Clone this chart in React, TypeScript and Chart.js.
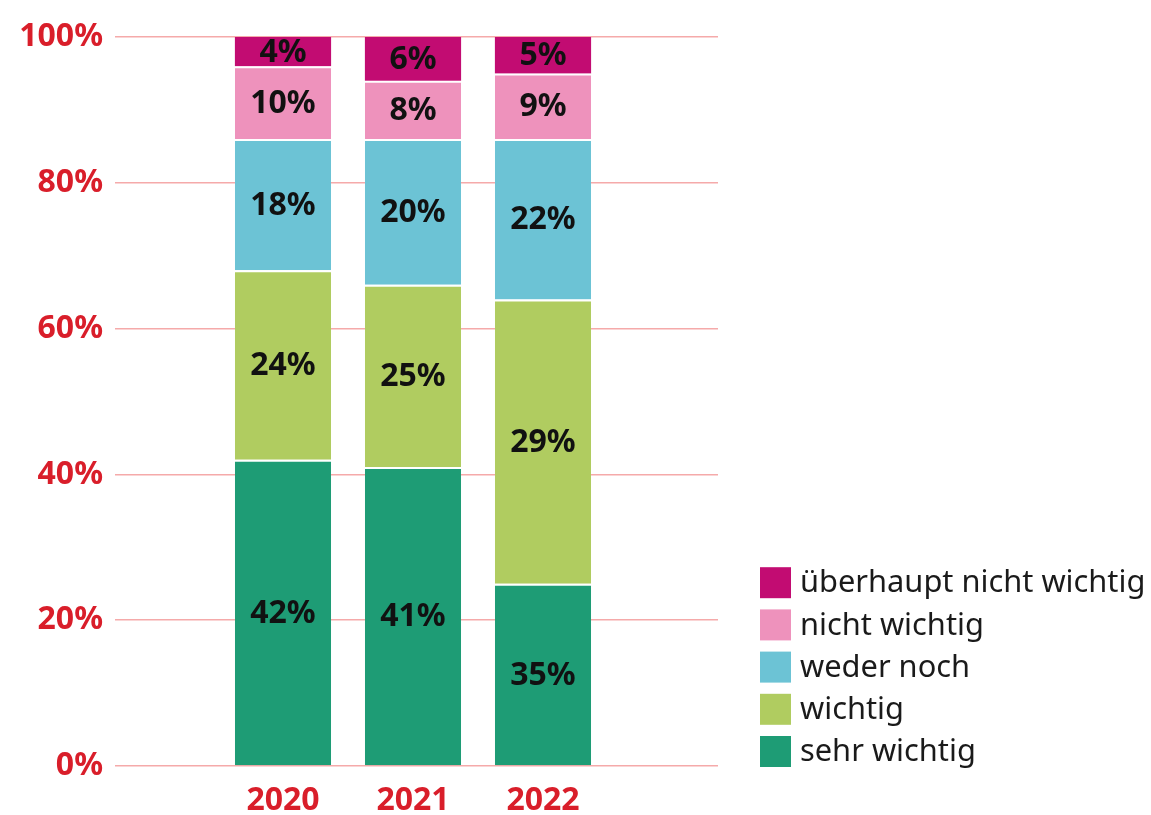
import React, { useEffect, useRef } from "react";
import { Chart, registerables } from "chart.js";

Chart.register(...registerables);

const years = ["2020", "2021", "2022"];
const tickValues = [0, 20, 40, 60, 80, 100];

// segment heights as drawn in the picture (percent)
const sehrWichtig = [42, 41, 25];
const wichtig = [26, 25, 39];
const wederNoch = [18, 20, 22];
const nichtWichtig = [10, 8, 9];
const ueberhauptNicht = [4, 6, 5];

// printed labels inside the segments
const sehrWichtigLabels = [42, 41, 35];
const wichtigLabels = [24, 25, 29];
const wederNochLabels = [18, 20, 22];
const nichtWichtigLabels = [10, 8, 9];
const ueberhauptNichtLabels = [4, 6, 5];

const seriesNames = ["sehr wichtig", "wichtig", "weder noch", "nicht wichtig", "überhaupt nicht wichtig"];
const seriesColors = ["#1e9c75", "#b0cc60", "#6cc3d5", "#ee92bc", "#c20c72"];

const RED = "#d91e2a";
const FONT = '"Noto Sans", "Open Sans", sans-serif';

const segmentLabels = {
  id: "segmentLabels",
  afterDatasetsDraw(chart: any) {
    const ctx = chart.ctx;
    ctx.save();
    ctx.font = `bold 32px ${FONT}`;
    ctx.fillStyle = "#111111";
    ctx.textAlign = "center";
    ctx.textBaseline = "middle";
    chart.data.datasets.forEach((ds: any, di: number) => {
      const meta = chart.getDatasetMeta(di);
      meta.data.forEach((el: any, i: number) => {
        const txt = ds.printed[i] + "%";
        ctx.fillText(txt, el.x, (el.y + el.base) / 2 + 1);
      });
    });
    ctx.restore();
  },
};

const sideLegend = {
  id: "sideLegend",
  afterDraw(chart: any) {
    const ctx = chart.ctx;
    const items = chart.data.datasets.slice().reverse();
    const left = chart.chartArea.right + 42;
    const bottom = chart.chartArea.bottom;
    const pitch = 42.2;
    const box = 31;
    ctx.save();
    ctx.font = `30.8px ${FONT}`;
    ctx.textBaseline = "middle";
    ctx.textAlign = "left";
    items.forEach((d: any, i: number) => {
      const top = bottom - box + 1 - (items.length - 1 - i) * pitch;
      ctx.fillStyle = d.backgroundColor;
      ctx.fillRect(left, top, box, box);
      ctx.fillStyle = "#1a1a1a";
      ctx.fillText(d.label, left + box + 9, top + box / 2 + 1);
    });
    ctx.restore();
  },
};

export default function App() {
  const ref = useRef<HTMLCanvasElement | null>(null);

  useEffect(() => {
    if (!ref.current) return;
    const values = [sehrWichtig, wichtig, wederNoch, nichtWichtig, ueberhauptNicht];
    const printed = [sehrWichtigLabels, wichtigLabels, wederNochLabels, nichtWichtigLabels, ueberhauptNichtLabels];
    const chart = new Chart(ref.current, {
      type: "bar",
      data: {
        labels: years,
        datasets: values.map((v, i) => ({
          label: seriesNames[i],
          data: v,
          printed: printed[i],
          backgroundColor: seriesColors[i],
          borderColor: "#ffffff",
          borderWidth: i === values.length - 1 ? 0 : { top: 2, left: 0, right: 0, bottom: 0 },
          borderSkipped: false,
          categoryPercentage: 1,
          barPercentage: 0.74,
        })) as any,
      },
      options: {
        responsive: false,
        animation: false,
        layout: { padding: { top: 37, right: 433, bottom: 0, left: 0 } },
        plugins: {
          legend: { display: false },
          tooltip: { enabled: false },
        },
        scales: {
          x: {
            type: "linear",
            stacked: true,
            offset: false,
            bounds: "data",
            min: 2018.7077,
            max: 2023.3462,
            grid: { display: false },
            border: { display: false },
            afterBuildTicks: (scale: any) => {
              scale.ticks = years.map((y) => ({ value: Number(y) }));
            },
            afterFit: (scale: any) => {
              scale.height = 49;
            },
            ticks: {
              autoSkip: false,
              maxRotation: 0,
              padding: 8,
              color: RED,
              font: { family: FONT, size: 32, weight: "bold" },
              callback: (v: any) => String(v),
            },
          },
          y: {
            stacked: true,
            min: 0,
            max: 100,
            afterBuildTicks: (scale: any) => {
              scale.ticks = tickValues.map((t) => ({ value: t }));
            },
            afterFit: (scale: any) => {
              scale.width = 115;
            },
            grid: { color: "#f5aaaa", lineWidth: 1.6, drawTicks: false },
            border: { display: false },
            ticks: {
              padding: 12,
              color: RED,
              font: { family: FONT, size: 32, weight: "bold" },
              callback: (v: any) => v + "%",
            },
          },
        },
      },
      plugins: [segmentLabels, sideLegend],
    });
    return () => chart.destroy();
  }, []);

  return (
    <div style={{ position: "absolute", left: 0, top: 0, width: 1151, height: 815, background: "#ffffff" }}>
      <canvas ref={ref} width={1151} height={815} />
    </div>
  );
}
